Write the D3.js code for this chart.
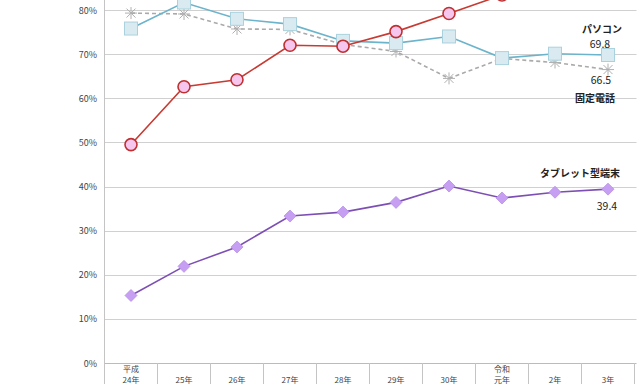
<!DOCTYPE html>
<html>
<head>
<meta charset="utf-8">
<script src="https://cdn.jsdelivr.net/npm/d3@7"></script>
<style>
  body { margin: 0; background: #fff; }
  svg { display: block; font-family: "Noto Sans CJK JP", "DejaVu Sans", sans-serif; }
</style>
</head>
<body>
<svg id="chart" width="640" height="384"></svg>
<script>
// 年次 (カテゴリ)
const years = ["平成\n24年", "25年", "26年", "27年", "28年", "29年", "30年", "令和\n元年", "2年", "3年"];

// 保有率 (%)
const smartphone = [49.5, 62.6, 64.2, 72.0, 71.8, 75.1, 79.2, 83.4, 86.8, 88.6];
const pc         = [75.8, 81.7, 78.0, 76.8, 73.0, 72.5, 74.0, 69.1, 70.1, 69.8];
const landline   = [79.3, 79.1, 75.7, 75.6, 72.2, 70.6, 64.5, 69.0, 68.1, 66.5];
const tablet     = [15.3, 21.9, 26.3, 33.3, 34.2, 36.4, 40.1, 37.4, 38.7, 39.4];

const yTicks = [0, 10, 20, 30, 40, 50, 60, 70, 80];

const svg = d3.select('#chart');
const left = 104.5, right = 634.5, bottom = 363;

const x = d3.scaleBand()
    .domain(years)
    .range([left, right]);

const y = d3.scaleLinear()
    .domain([0, 80])
    .range([bottom, 10]);

const cx = d => x(d) + x.bandwidth() / 2;

// grid
svg.append('g')
    .selectAll('line')
    .data(yTicks)
    .enter()
        .append('line')
        .attr('x1', left)
        .attr('x2', right + 2)
        .attr('y1', d => Math.round(y(d)) + 0.5)
        .attr('y2', d => Math.round(y(d)) + 0.5)
        .style('stroke', d => d === 0 ? '#bbb' : '#d0d0d0')
        .style('stroke-width', 1.2);

// y axis labels
svg.append('g')
    .selectAll('text')
    .data(yTicks)
    .enter()
        .append('text')
        .attr('x', 97)
        .attr('y', d => y(d) + 3.5)
        .attr('text-anchor', 'end')
        .style('font-size', '9px')
        .style('fill', '#444')
        .text(d => d + '%');

svg.append('line')
    .attr('x1', left).attr('x2', left)
    .attr('y1', 0).attr('y2', 384)
    .style('stroke', '#c4c4c4');

// category table
svg.append('g')
    .selectAll('line')
    .data(years)
    .enter()
        .append('line')
        .attr('x1', d => x(d) + x.bandwidth())
        .attr('x2', d => x(d) + x.bandwidth())
        .attr('y1', bottom)
        .attr('y2', 384)
        .style('stroke', '#c4c4c4');

const cat = svg.append('g')
    .selectAll('text')
    .data(years)
    .enter()
        .append('text')
        .attr('x', d => cx(d))
        .attr('text-anchor', 'middle')
        .style('font-size', '8px')
        .style('fill', '#444');

cat.each(function(d) {
    const lines = d.split('\n');
    const t = d3.select(this);
    lines.forEach((s, i) => {
        t.append('tspan')
            .attr('x', cx(d))
            .attr('y', 383 - (lines.length - 1 - i) * 11)
            .text(s);
    });
});

const line = d3.line()
    .x((d, i) => cx(years[i]))
    .y(d => y(d));

// 固定電話
svg.append('path')
    .datum(landline)
    .attr('d', line)
    .style('fill', 'none')
    .style('stroke', '#aaa')
    .style('stroke-width', 1.6)
    .style('stroke-dasharray', '4,3');

svg.append('g')
    .selectAll('path')
    .data(landline)
    .enter()
        .append('path')
        .attr('transform', (d, i) => `translate(${cx(years[i])},${y(d)})`)
        .attr('d', 'M-6,0H6M0,-6V6M-4.5,-4.5L4.5,4.5M-4.5,4.5L4.5,-4.5')
        .style('stroke', '#b0b0b0')
        .style('stroke-width', 1);

// パソコン
svg.append('path')
    .datum(pc)
    .attr('d', line)
    .style('fill', 'none')
    .style('stroke', '#6cb4cc')
    .style('stroke-width', 1.6);

svg.append('g')
    .selectAll('rect')
    .data(pc)
    .enter()
        .append('rect')
        .attr('x', (d, i) => cx(years[i]) - 6.5)
        .attr('y', d => y(d) - 6.5)
        .attr('width', 13)
        .attr('height', 13)
        .style('fill', '#d9eaf1')
        .style('stroke', '#a9d2de')
        .style('stroke-width', 1);

// スマートフォン
svg.append('path')
    .datum(smartphone)
    .attr('d', line)
    .style('fill', 'none')
    .style('stroke', '#c83a32')
    .style('stroke-width', 1.6);

svg.append('g')
    .selectAll('circle')
    .data(smartphone)
    .enter()
        .append('circle')
        .attr('cx', (d, i) => cx(years[i]))
        .attr('cy', d => y(d))
        .attr('r', 6)
        .style('fill', '#f7c6ee')
        .style('stroke', '#c03030')
        .style('stroke-width', 1.6);

// タブレット型端末
svg.append('path')
    .datum(tablet)
    .attr('d', line)
    .style('fill', 'none')
    .style('stroke', '#7d4fb4')
    .style('stroke-width', 1.6);

svg.append('g')
    .selectAll('path')
    .data(tablet)
    .enter()
        .append('path')
        .attr('transform', (d, i) => `translate(${cx(years[i])},${y(d)})`)
        .attr('d', 'M0,-6L6,0L0,6L-6,0Z')
        .style('fill', '#c79ff2')
        .style('stroke', '#b88ee8')
        .style('stroke-width', 0.8);

// labels
const last = years[years.length - 1];
const labels = [
    { t: 'パソコン', x: cx(last) - 6, y: y(pc[9]) - 22, b: true },
    { t: '69.8', x: cx(last) - 8, y: y(pc[9]) - 7, b: false },
    { t: '66.5', x: cx(last) - 7, y: y(landline[9]) + 14, b: false },
    { t: '固定電話', x: cx(last) - 13, y: y(landline[9]) + 32, b: true },
    { t: 'タブレット型端末', x: cx(last) - 28, y: y(tablet[9]) - 12, b: true },
    { t: '39.4', x: cx(last) - 1, y: y(tablet[9]) + 21, b: false }
];

svg.append('g')
    .selectAll('text')
    .data(labels)
    .enter()
        .append('text')
        .attr('x', d => d.x)
        .attr('y', d => d.y)
        .attr('text-anchor', 'middle')
        .style('font-size', d => d.b ? '10px' : '10.5px')
        .style('font-weight', d => d.b ? 'bold' : 'normal')
        .style('fill', '#222')
        .text(d => d.t);
</script>
</body>
</html>
